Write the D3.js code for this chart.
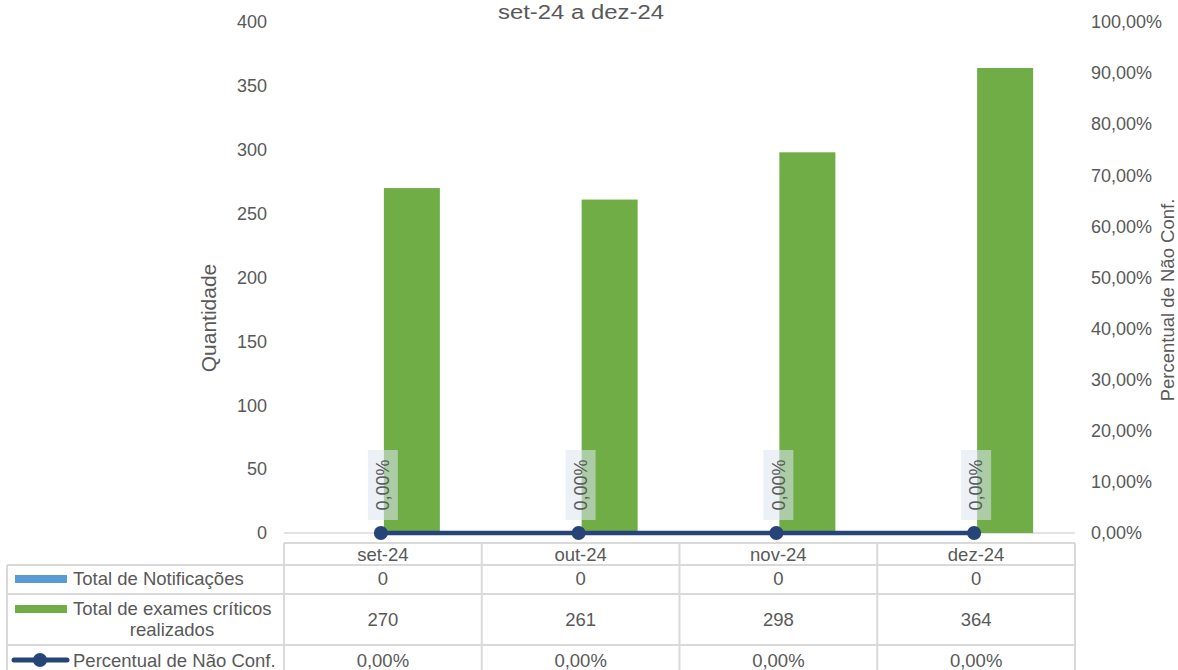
<!DOCTYPE html>
<html><head><meta charset="utf-8">
<script src="https://cdn.jsdelivr.net/npm/d3@7"></script>
<style>body{margin:0;background:#fff}svg{display:block;font-family:"Liberation Sans",Arial,sans-serif}</style>
</head><body><svg id="c" width="1178" height="670"></svg>
<script>
const categories = ["set-24","out-24","nov-24","dez-24"];
const notificacoes = [0,0,0,0];
const exames = [270,261,298,364];
const percentual = [0,0,0,0];
const leftTicks = [0,50,100,150,200,250,300,350,400];
const rightTicks = [0,0.1,0.2,0.3,0.4,0.5,0.6,0.7,0.8,0.9,1.0];
const seriesNames = ["Total de Notificações","Total de exames críticos realizados","Percentual de Não Conf."];
const chartTitle = "set-24 a dez-24";

(function(){
const svg = d3.select("#c");
const txt = "#595959", grid="#d9d9d9";
const blue="#5b9bd5", green="#70ad47", navy="#264478";
const pL=284, pR=1075, pT=22, pB=533;
const FF = "Liberation Sans, Arial, sans-serif";

const x = d3.scaleBand().domain(categories).range([pL,pR]);
const y = d3.scaleLinear().domain([0,400]).range([pB,pT]);
const y2 = d3.scaleLinear().domain([0,1]).range([pB,pT]);
const fmtPct = v => d3.format(".2f")(v*100).replace(".",",")+"%";

svg.append("text").attr("x",581).attr("y",19).attr("text-anchor","middle")
  .attr("font-size",20).attr("fill",txt)
  .attr("textLength",166).attr("lengthAdjust","spacingAndGlyphs").text(chartTitle);

const la = svg.append("g").attr("transform",`translate(${pL},0)`)
  .call(d3.axisLeft(y).tickValues(leftTicks).tickSize(0).tickPadding(17));
la.select(".domain").remove();
la.selectAll("text").attr("font-size",18).attr("fill",txt).attr("font-family",FF);

const ra = svg.append("g").attr("transform",`translate(${pR},0)`)
  .call(d3.axisRight(y2).tickValues(rightTicks).tickFormat(fmtPct).tickSize(0).tickPadding(16));
ra.select(".domain").remove();
ra.selectAll("text").attr("font-size",18).attr("fill",txt).attr("font-family",FF);

svg.append("text").attr("transform","translate(216,318) rotate(-90)").attr("text-anchor","middle")
  .attr("font-size",21).attr("fill",txt).text("Quantidade");
svg.append("text").attr("transform","translate(1174,300) rotate(-90)").attr("text-anchor","middle")
  .attr("font-size",18.5).attr("fill",txt).text(seriesNames[2]);

svg.append("line").attr("x1",pL).attr("x2",pR).attr("y1",pB).attr("y2",pB)
  .attr("stroke",grid).attr("stroke-width",1.5);

const bw = 56;
svg.append("g").selectAll("rect").data(categories).join("rect")
  .attr("x",d=>x(d)+x.bandwidth()/2-bw).attr("width",bw)
  .attr("y",(d,i)=>y(notificacoes[i])).attr("height",(d,i)=>pB-y(notificacoes[i])).attr("fill",blue);
svg.append("g").selectAll("rect").data(categories).join("rect")
  .attr("x",d=>x(d)+x.bandwidth()/2+1).attr("width",bw)
  .attr("y",(d,i)=>y(exames[i])).attr("height",(d,i)=>pB-y(exames[i])).attr("fill",green);

const cx = d=>x(d)+x.bandwidth()/2-2;
const line = d3.line().x((d,i)=>cx(categories[i])).y(d=>y2(d));
svg.append("path").datum(percentual).attr("d",line).attr("fill","none")
  .attr("stroke",navy).attr("stroke-width",4.5);
svg.append("g").selectAll("circle").data(percentual).join("circle")
  .attr("cx",(d,i)=>cx(categories[i])).attr("cy",d=>y2(d)).attr("r",7).attr("fill",navy);

const lg = svg.append("g").selectAll("g").data(percentual).join("g")
  .attr("transform",(d,i)=>`translate(${cx(categories[i])+2},${y2(d)-48})`);
lg.append("rect").attr("x",-15).attr("y",-35).attr("width",30).attr("height",70)
  .attr("fill","#dce6f2").attr("opacity",0.55);
lg.append("text").attr("transform","rotate(-90)").attr("text-anchor","middle").attr("dy","0.35em")
  .attr("font-size",18).attr("fill",txt).text(d=>fmtPct(d));

const tg = svg.append("g");
const tl = 7, TS = 18.5;
const hline = (x1,x2,yy)=>tg.append("line").attr("x1",x1).attr("x2",x2).attr("y1",yy).attr("y2",yy).attr("stroke",grid).attr("stroke-width",2);
const vline = (xx,y1,y2_)=>tg.append("line").attr("x1",xx).attr("x2",xx).attr("y1",y1).attr("y2",y2_).attr("stroke",grid).attr("stroke-width",2);
hline(pL,pR,543);
hline(tl,pR,565); hline(tl,pR,594); hline(tl,pR,645);
vline(tl,565,670);
categories.forEach(c=>vline(x(c),543,670));
vline(pR,543,670);
const cell = (xx,yy,t,anchor)=>tg.append("text").attr("x",xx).attr("y",yy).attr("text-anchor",anchor||"middle")
  .attr("font-size",TS).attr("fill",txt).text(t);
categories.forEach(c=>cell(x(c)+x.bandwidth()/2,561,c));
const rows = [
  {vals:notificacoes.map(String), base:585},
  {vals:exames.map(String), base:626},
  {vals:percentual.map(fmtPct), base:667}
];
rows.forEach(r=>r.vals.forEach((v,i)=>cell(x(categories[i])+x.bandwidth()/2,r.base,v)));

tg.append("rect").attr("x",15).attr("y",575).attr("width",52).attr("height",8).attr("fill",blue);
cell(73,585,seriesNames[0],"start");
tg.append("rect").attr("x",15).attr("y",605).attr("width",52).attr("height",8).attr("fill",green);
cell(73,615,"Total de exames críticos","start");
cell(172,636,"realizados");
tg.append("line").attr("x1",14).attr("x2",67).attr("y1",660).attr("y2",660).attr("stroke",navy).attr("stroke-width",5).attr("stroke-linecap","round");
tg.append("circle").attr("cx",40).attr("cy",660).attr("r",7).attr("fill",navy);
cell(73,667,seriesNames[2],"start");
})();
</script></body></html>
